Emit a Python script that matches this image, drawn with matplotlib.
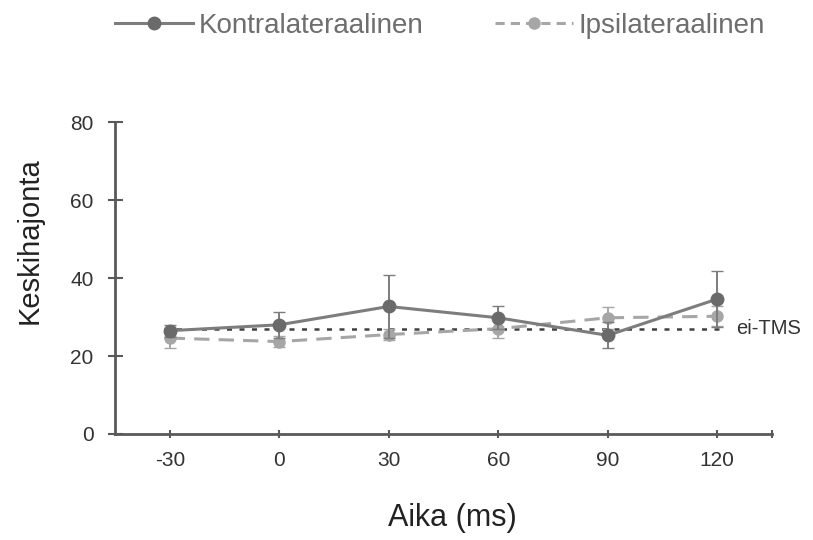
import matplotlib
matplotlib.use("Agg")
import matplotlib.pyplot as plt
from matplotlib.lines import Line2D

plt.rcParams["font.family"] = ["Liberation Sans", "DejaVu Sans"]
plt.rcParams["axes.unicode_minus"] = False

# data
times = [-30, 0, 30, 60, 90, 120]
contra = [26.5, 28.0, 32.7, 29.8, 25.3, 34.6]
contra_err = [1.5, 3.3, 8.0, 3.0, 3.3, 7.2]
ipsi = [24.6, 23.7, 25.5, 27.0, 29.8, 30.2]
ipsi_err = [2.5, 1.5, 1.5, 2.5, 2.8, 2.5]
no_tms = 27.0
no_tms_span = [-31.6, 122.5]
yticks = [0, 20, 40, 60, 80]

axis_col = "#595959"
contra_col = "#7d7d7d"
contra_mk = "#6a6a6a"
ipsi_col = "#a6a6a6"
text_col = "#333333"

fig = plt.figure(figsize=(8.13, 5.4), dpi=100)
ax = fig.add_axes([0.1415, 0.1963, 0.808, 0.5777])

ax.plot(no_tms_span, [no_tms, no_tms], linestyle=(0, (2, 3)), color="#404040",
        linewidth=1.8, zorder=1)
ax.text(125.2, no_tms, "ei-TMS", fontsize=14.5, color=text_col,
        va="center", ha="left")

ax.errorbar(times, ipsi, yerr=ipsi_err, color=ipsi_col, linestyle=(0, (5, 3)),
            linewidth=2.2, marker="o", markersize=8, capsize=4, elinewidth=1.4,
            zorder=2)
ax.errorbar(times, contra, yerr=contra_err, color=contra_col, linewidth=2.2,
            marker="o", markersize=9, mfc=contra_mk, mec=contra_mk, capsize=4,
            elinewidth=1.4, zorder=3)

ax.set_xlim(-45, 135)
ax.set_ylim(0, 80)
ax.set_xticks(times)
ax.set_xticks([135], minor=True)
ax.set_yticks(yticks)

for s in ["top", "right"]:
    ax.spines[s].set_visible(False)
for s in ["left", "bottom"]:
    ax.spines[s].set_color(axis_col)
    ax.spines[s].set_linewidth(2)
ax.tick_params(axis="y", direction="inout", length=10.8, width=1.5, color=axis_col,
               labelsize=15, labelcolor=text_col, pad=10)
ax.tick_params(axis="x", which="both", direction="inout", length=5.8, width=1.5,
               color=axis_col, labelsize=15, labelcolor=text_col, pad=9)

ax.set_ylabel("Keskihajonta", fontsize=21, color="#222222")
ax.yaxis.set_label_coords(-0.108, 0.62)
ax.set_xlabel("Aika (ms)", fontsize=22, color="#222222")
ax.xaxis.set_label_coords(0.514, -0.222)

handles = [
    Line2D([], [], color=contra_col, linewidth=2.2, marker="o", markersize=9,
           mfc=contra_mk, mec=contra_mk),
    Line2D([], [], color=ipsi_col, linewidth=2.2, linestyle=(0, (3, 2)),
           marker="o", markersize=8),
]
labels = ["Kontralateraalinen", "Ipsilateraalinen"]
fig.legend(handles, labels, loc="center left", bbox_to_anchor=(0.1415, 0.952),
           ncol=2, frameon=False, fontsize=20, handlelength=2.8,
           columnspacing=2.6, handletextpad=0.2, labelcolor="#6e6e6e",
           borderpad=0, borderaxespad=0)

fig.savefig("out.png", dpi=100)
